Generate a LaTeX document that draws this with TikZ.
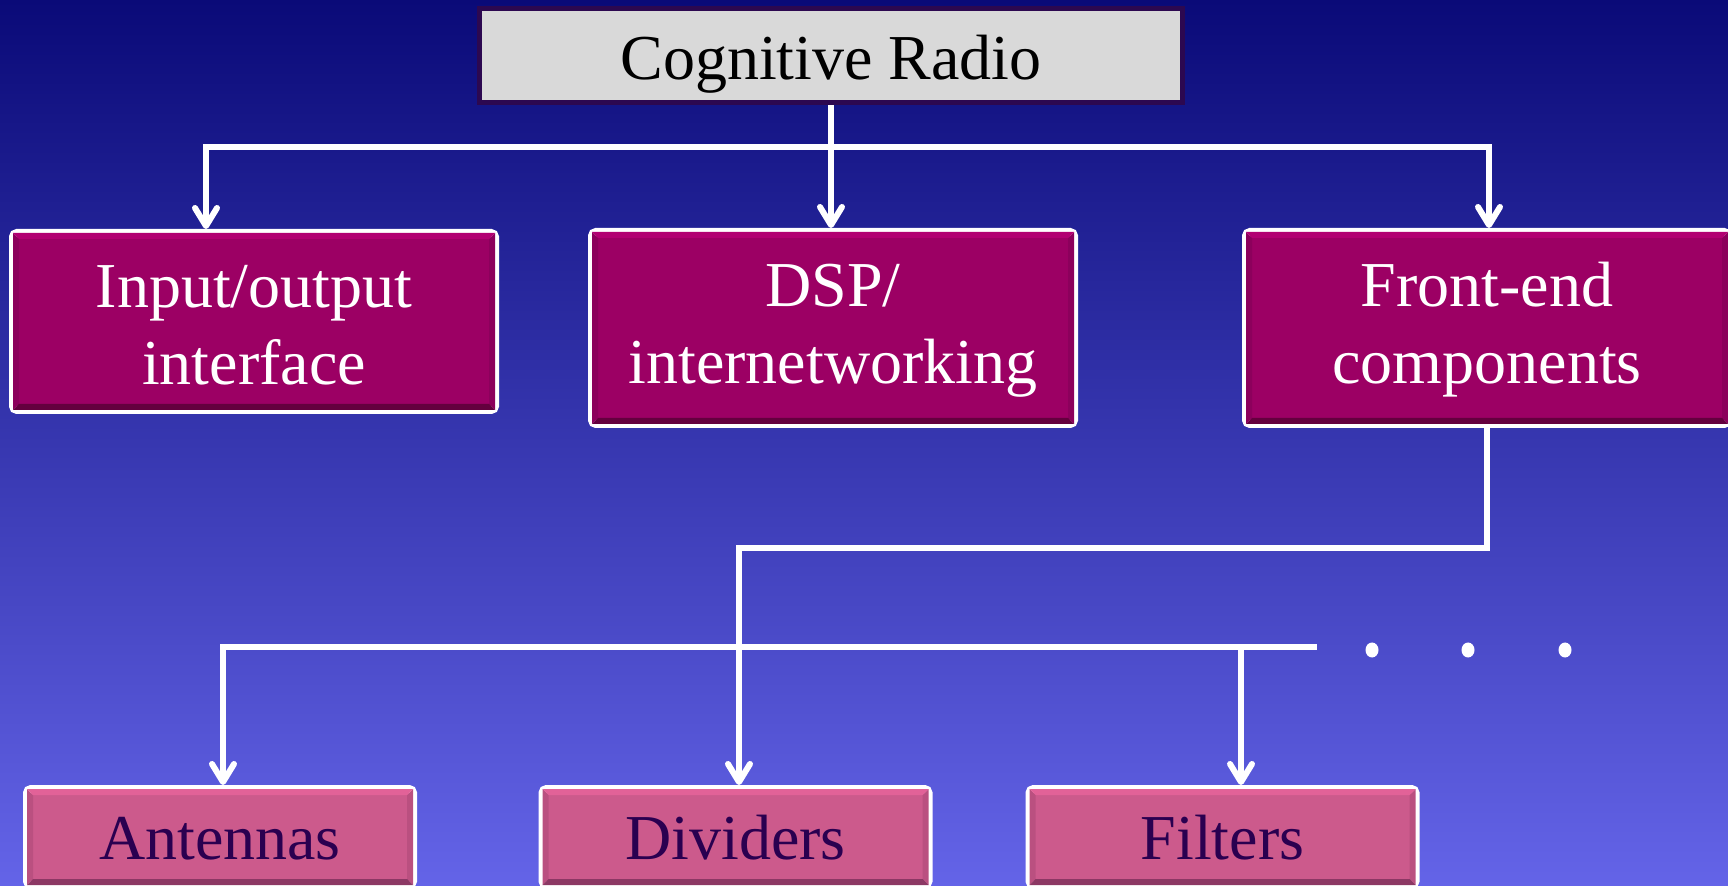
\documentclass[tikz,border=0pt]{standalone}
\usepackage{fontspec}
\setmainfont{Liberation Serif}
\usetikzlibrary{arrows.meta,calc,shapes.geometric}
\definecolor{bgtop}{RGB}{10,10,120}
\definecolor{bgbot}{RGB}{100,100,232}
\definecolor{topfill}{RGB}{217,217,217}
\definecolor{topline}{RGB}{44,8,80}
\definecolor{magfill}{RGB}{156,0,100}
\definecolor{maglight}{RGB}{178,0,114}
\definecolor{magdark}{RGB}{100,0,62}
\definecolor{magside}{RGB}{140,0,92}
\definecolor{pinkfill}{RGB}{204,90,140}
\definecolor{pinklight}{RGB}{226,98,152}
\definecolor{pinkdark}{RGB}{140,56,100}
\definecolor{pinkside}{RGB}{186,80,128}
\definecolor{pinktext}{RGB}{42,0,80}
\newcommand\strutH[1]{\rule{0pt}{#1em}}
\newcommand\strutD[1]{\rule[-#1em]{0pt}{#1em}}
\newcommand\bevel[4]{%
  \coordinate (bNW) at ($(#1.north west)+(4,4)$);
  \coordinate (bNE) at ($(#1.north east)+(-4,4)$);
  \coordinate (bSW) at ($(#1.south west)+(4,-4)$);
  \coordinate (bSE) at ($(#1.south east)+(-4,-4)$);
  \fill[#3] (bNW) -- (bSW) -- ($(bSW)+(6,-6)$) -- ($(bNW)+(6,6)$) -- cycle;
  \fill[#3] (bNE) -- (bSE) -- ($(bSE)+(-6,-6)$) -- ($(bNE)+(-6,6)$) -- cycle;
  \fill[#2] (bNW) -- (bNE) -- ($(bNE)+(-6,6)$) -- ($(bNW)+(6,6)$) -- cycle;
  \fill[#4] (bSW) -- (bSE) -- ($(bSE)+(-6,-6)$) -- ($(bSW)+(6,-6)$) -- cycle;
}
\tikzset{
  bigfont/.style={font=\fontsize{32}{38.5}\selectfont},
  topbox/.style={bigfont, draw=topline, line width=2.5pt, fill=topfill,
    minimum width=351.5pt, minimum height=47pt, inner sep=0pt, text=black},
  magbox/.style={bigfont, draw=white, line width=4pt, fill=magfill,
    rounded corners=2pt, minimum width=241pt, inner sep=0pt, align=center, text=white},
  pinkbox/.style={bigfont, draw=white, line width=4pt, fill=pinkfill,
    rounded corners=2pt, minimum width=193pt, minimum height=48pt, inner sep=0pt, text=pinktext},
  conn/.style={draw=white, line width=3pt},
  arr/.style={conn, -{Straight Barb[length=9pt,width=11pt,round]}},
  arrs/.style={conn, {Straight Barb[length=9pt,width=11pt,round]}-{Straight Barb[length=9pt,width=11pt,round]}},
  dotnode/.style={ellipse, fill=white, inner sep=0pt, minimum width=6.5pt, minimum height=7.5pt}
}
\begin{document}
\begin{tikzpicture}[x=0.5pt,y=-0.5pt]
\useasboundingbox (0,0) rectangle (1728,886);
\fill[top color=bgtop, bottom color=bgbot] (0,0) rectangle (1728,886);

% nodes
\node[topbox] (top) at (831,55.5) {\strutH{0.96}\strutD{0.22}Cognitive Radio};
\node[magbox, minimum height=88.5pt] (b1) at (254,321.5) {\strutH{1.0}Input/output\\ \strutD{0.22}interface};
\node[magbox, minimum height=96pt] (b2) at (833,328) {\strutH{1.0}DSP/\\ \strutD{0.47}internetworking};
\node[magbox, minimum height=96pt] (b3) at (1487,328) {\strutH{1.0}Front-end\\ \strutD{0.47}components};
\node[pinkbox] (ant) at (220,837) {\strutH{0.92}\strutD{0.22}Antennas};
\node[pinkbox] (div) at (735.5,837) {\strutH{0.92}\strutD{0.22}Dividers};
\node[pinkbox] (fil) at (1222.5,837) {\strutH{0.92}\strutD{0.22}Filters};
\bevel{b1}{maglight}{magside}{magdark}
\bevel{b2}{maglight}{magside}{magdark}
\bevel{b3}{maglight}{magside}{magdark}
\bevel{ant}{pinklight}{pinkside}{pinkdark}
\bevel{div}{pinklight}{pinkside}{pinkdark}
\bevel{fil}{pinklight}{pinkside}{pinkdark}

% upper connectors
\coordinate (hL) at (206,147);
\coordinate (hR) at (1489,147);
\draw[arrs] (hL |- b1.north) -- (hL) -- (hR) -- (hR |- b3.north);
\draw[arr] (top.south) -- (top.south |- b2.north);

% lower connectors
\coordinate (k2) at (739,548);
\draw[arr] (b3.south) |- (k2) -- (k2 |- div.north);
\coordinate (m1) at (223,647);
\coordinate (m2) at (1317,647);
\coordinate (m3) at (1241,647);
\draw[arr] (m2) -- (m1) -- (m1 |- ant.north);
\draw[arr] (m3) -- (m3 |- fil.north);

% dots
\node[dotnode] (d1) at (1372,650) {};
\node[dotnode] (d2) at (1468,650) {};
\node[dotnode] (d3) at (1565,650) {};
\end{tikzpicture}
\end{document}
